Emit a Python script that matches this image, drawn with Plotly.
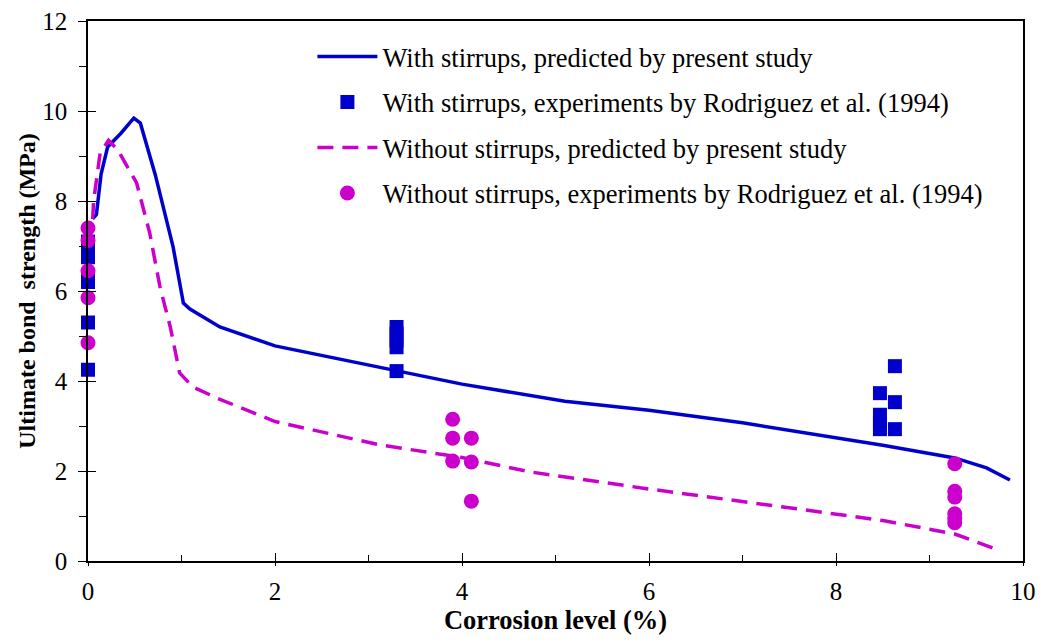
import plotly.graph_objects as go

# predicted curves
with_x = [0.05, 0.09, 0.14, 0.21, 0.35, 0.49, 0.56, 0.72, 0.91, 1.02, 1.09, 1.41, 2.0, 3.3, 4.0, 5.1, 6.0, 7.0, 7.83, 8.5, 9.27, 9.61, 9.86]
with_y = [7.6, 7.7, 8.6, 9.2, 9.5, 9.84, 9.73, 8.58, 6.98, 5.73, 5.6, 5.2, 4.78, 4.22, 3.93, 3.55, 3.35, 3.07, 2.8, 2.57, 2.29, 2.07, 1.8]
without_x = [0.05, 0.06, 0.13, 0.22, 0.32, 0.52, 0.66, 0.77, 0.88, 0.98, 1.12, 1.38, 2.0, 3.12, 4.0, 4.73, 6.0, 7.0, 7.83, 8.5, 9.27, 9.73]
without_y = [7.6, 8.0, 9.07, 9.35, 9.13, 8.4, 7.29, 6.09, 5.2, 4.18, 3.87, 3.62, 3.1, 2.58, 2.3, 1.98, 1.6, 1.33, 1.09, 0.9, 0.6, 0.25]

# experiments, with stirrups
exp_with_x = [0, 0, 0, 0, 0, 0, 0, 3.3, 3.3, 3.3, 3.3, 3.3, 8.47, 8.47, 8.47, 8.47, 8.63, 8.63, 8.63]
exp_with_y = [4.25, 5.3, 6.2, 6.35, 6.75, 6.95, 7.1, 4.22, 4.75, 4.9, 5.05, 5.2, 3.73, 3.25, 3.05, 2.93, 4.33, 3.53, 2.93]
# experiments, without stirrups
exp_without_x = [0, 0, 0, 0, 0, 3.9, 3.9, 3.9, 4.1, 4.1, 4.1, 9.27, 9.27, 9.27, 9.27, 9.27, 9.27]
exp_without_y = [4.85, 5.85, 6.45, 7.12, 7.4, 3.15, 2.73, 2.22, 2.73, 2.2, 1.33, 2.16, 1.55, 1.42, 1.05, 0.95, 0.85]

BLUE = "#0000CC"
MAG = "#CC00CC"
FONT = "'Liberation Serif', 'Times New Roman', serif"

fig = go.Figure()
fig.add_trace(go.Scatter(x=with_x, y=with_y, mode="lines", name="With stirrups, predicted by present study",
                         line=dict(color=BLUE, width=3.5), legendgroup="a"))
fig.add_trace(go.Scatter(x=exp_with_x, y=exp_with_y, mode="markers", cliponaxis=False,
                         name="With stirrups, experiments by Rodriguez et al. (1994)",
                         marker=dict(symbol="square", color=BLUE, size=14), legendgroup="b"))
fig.add_trace(go.Scatter(x=without_x, y=without_y, mode="lines", name="Without stirrups, predicted by present study",
                         line=dict(color=MAG, width=3.5, dash="16px,9px"), legendgroup="c"))
fig.add_trace(go.Scatter(x=exp_without_x, y=exp_without_y, mode="markers", cliponaxis=False,
                         name="Without stirrups, experiments by Rodriguez et al. (1994)",
                         marker=dict(symbol="circle", color=MAG, size=15), legendgroup="d"))
# helper overlay axes for the crossing major ticks
fig.add_trace(go.Scatter(x=[None], y=[None], xaxis="x2", yaxis="y2", showlegend=False, hoverinfo="skip"))

# the page body adds an 8px offset, margins compensate for it
fig.update_layout(
    width=1045, height=644,
    margin=dict(l=80, r=30, t=13, b=91),
    plot_bgcolor="white", paper_bgcolor="white",
    font=dict(family=FONT, size=25, color="black"),
    showlegend=True,
    legend=dict(x=0.24, y=0.978, xanchor="left", yanchor="top", bgcolor="rgba(0,0,0,0)",
                font=dict(family=FONT, size=26.5), traceorder="grouped", tracegroupgap=8,
                itemwidth=60),
    xaxis=dict(range=[0, 10], dtick=2, ticks="inside", ticklen=8, tickcolor="black", automargin=False,
               minor=dict(dtick=1, ticks="inside", ticklen=6, tickcolor="black"),
               ticklabelstandoff=7, ticklabeloverflow="allow", tickfont=dict(family=FONT, size=25),
               showline=True, linecolor="black", linewidth=1.5, mirror=True, showgrid=False, zeroline=False,
               title=dict(text="<b>Corrosion level (%)</b>", font=dict(family=FONT, size=26.5), standoff=4)),
    yaxis=dict(range=[0, 12], dtick=2, ticks="outside", ticklen=8, tickcolor="black", automargin=False,
               minor=dict(dtick=1, ticks="outside", ticklen=7, tickcolor="black"),
               ticklabelstandoff=6, ticklabeloverflow="allow", tickfont=dict(family=FONT, size=25),
               showline=True, linecolor="black", linewidth=1.5, mirror=True, showgrid=False, zeroline=False,
               title=dict(text="<b>Ultimate bond  strength (MPa)</b>", font=dict(family=FONT, size=24), standoff=0)),
    xaxis2=dict(range=[0, 10], dtick=2, overlaying="x", anchor="y2", side="bottom", ticks="outside",
                automargin=False, ticklen=4, tickcolor="black", showticklabels=False, showgrid=False,
                zeroline=False, showline=False),
    yaxis2=dict(range=[0, 12], dtick=2, overlaying="y", anchor="x2", side="left", ticks="inside",
                automargin=False, ticklen=8, tickcolor="black", showticklabels=False, showgrid=False,
                zeroline=False, showline=False),
)

fig.write_html("out.html")
